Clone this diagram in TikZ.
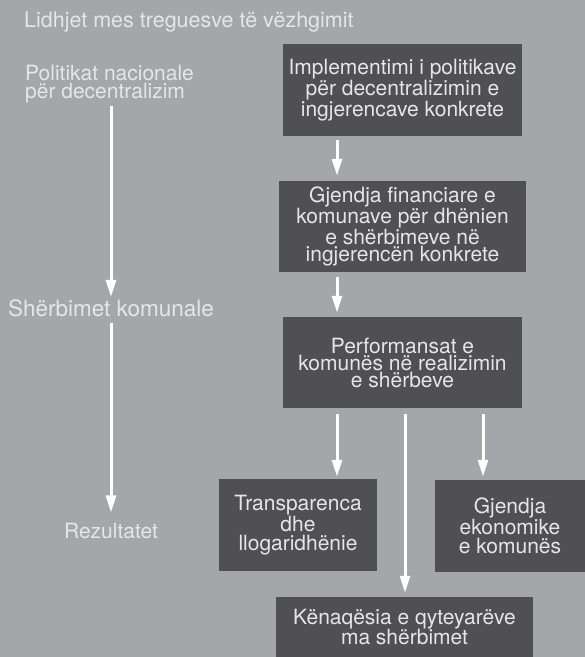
\documentclass[tikz,border=0pt]{standalone}
\usepackage{fontspec}
\setmainfont{TeX Gyre Heros}
\usetikzlibrary{positioning, arrows.meta, calc}

\definecolor{bggray}{HTML}{A5A6A9}
\definecolor{boxgray}{HTML}{505053}
\definecolor{txtgray}{HTML}{E6E6E6}

\begin{document}
\begin{tikzpicture}[
    x=1pt, y=-1pt,
    box/.style={
        rectangle,
        fill=boxgray,
        inner sep=0pt,
        align=center,
        text=txtgray,
        font=\fontsize{21}{17}\selectfont
    },
    lowbox/.style={
        box,
        font=\fontsize{21}{19.5}\selectfont
    },
    plain/.style={
        inner sep=0pt,
        text=txtgray,
        font=\fontsize{21}{18}\selectfont
    },
    arrow/.style={
        -{Triangle[width=10pt,length=17pt]},
        line width=3pt,
        draw=white
    }
]

% Background
\useasboundingbox (0,0) rectangle (585,657);
\fill[bggray] (0,0) rectangle (585,657);

% Left column
\node[plain, anchor=base west, font=\fontsize{21.5}{20}\selectfont] (title) at (24,27) {Lidhjet mes treguesve të vëzhgimit};
\node[plain, anchor=base west, align=left] (pol) at (25,98) {Politikat nacionale\\ për decentralizim};
\node[plain, anchor=base, font=\fontsize{22.5}{20}\selectfont] (sherb) at (111,316) {Shërbimet komunale};
\node[plain, anchor=base] (rez) at (111,538) {Rezultatet};

% Right column
\node[box, minimum width=239pt, minimum height=92pt] (impl) at (402.5,90) {Implementimi i politikave\\për decentralizimin e\\ingjerencave konkrete};
\node[box, minimum width=247pt, minimum height=91pt] (fin) at (402.5,226.5) {Gjendja financiare e\\komunave për dhënien\\e shërbimeve në\\ingjerencën konkrete};
\node[box, minimum width=239pt, minimum height=91pt] (perf) at (402.5,362.5) {Performansat e\\komunës në realizimin\\e shërbeve};

% Results
\node[lowbox, minimum width=158pt, minimum height=92pt] (transp) at (298,525) {Transparenca\\dhe\\llogaridhënie};
\node[lowbox, minimum width=150pt, minimum height=92pt] (ekon) at (510,526) {Gjendja\\ekonomike\\e komunës};
\node[lowbox, minimum width=257pt, minimum height=60pt] (kenaq) at (404.5,627) {Kënaqësia e qyteyarëve\\ma shërbimet};

% Connections left
\draw[arrow, shorten <=3pt, shorten >=2pt] (pol.south -| sherb) -- (sherb.north);
\draw[arrow, shorten <=6pt, shorten >=10pt] (sherb.south) -- (rez.north);

% Connections right
\draw[arrow, shorten <=4pt, shorten >=5pt] ([xshift=-65.5pt]impl.south) -- ([xshift=-65.5pt]impl.south |- fin.north);
\draw[arrow, shorten <=5pt, shorten >=4pt] ([xshift=-65.5pt]fin.south) -- ([xshift=-65.5pt]fin.south |- perf.north);
\draw[arrow, shorten <=6pt, shorten >=2pt] ([xshift=-65.5pt]perf.south) -- ([xshift=-65.5pt]perf.south |- transp.north);
\draw[arrow, shorten <=6pt, shorten >=4pt] ([xshift=2.5pt]perf.south) -- ([xshift=2.5pt]perf.south |- kenaq.north);
\draw[arrow, shorten <=6pt, shorten >=3pt] ([xshift=80.5pt]perf.south) -- ([xshift=80.5pt]perf.south |- ekon.north);

\end{tikzpicture}
\end{document}
